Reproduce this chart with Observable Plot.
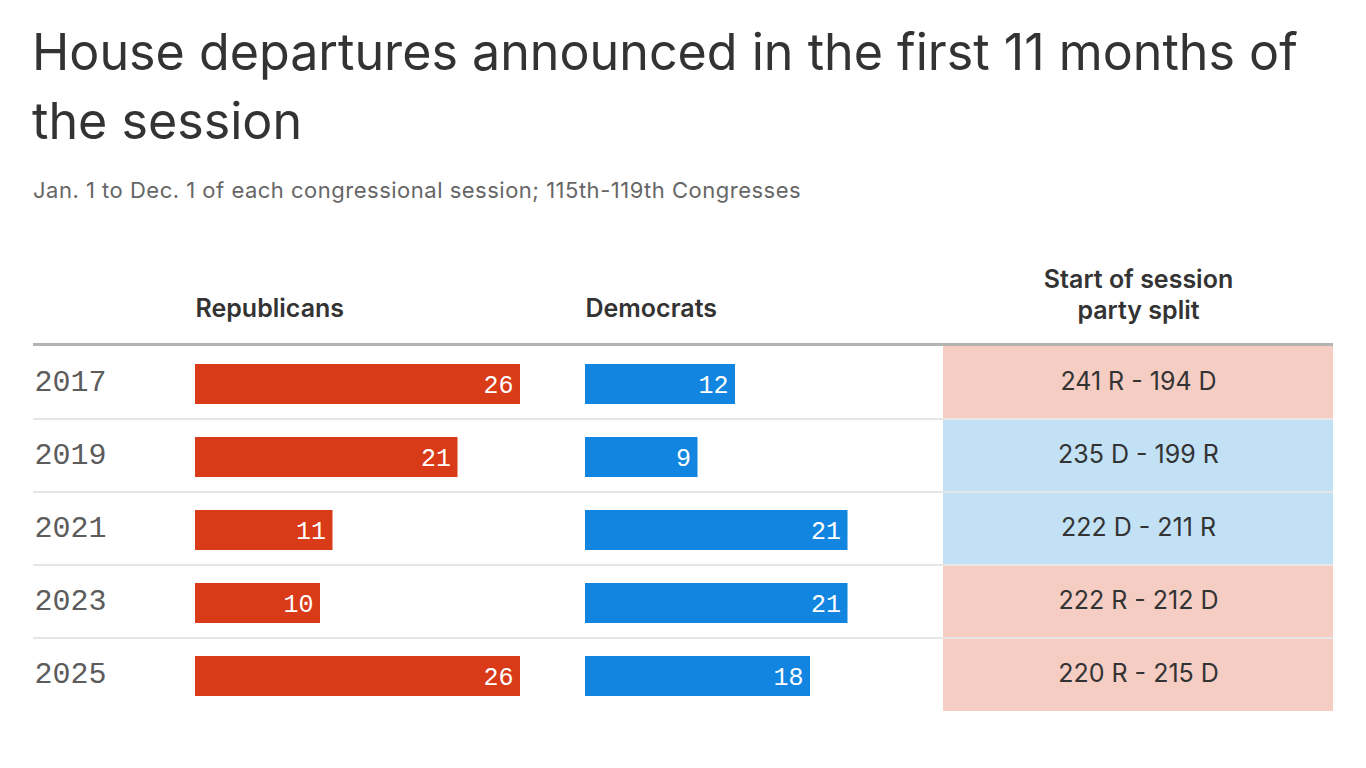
<!DOCTYPE html>
<html>
<head>
<meta charset="utf-8">
<script src="https://cdn.jsdelivr.net/npm/d3@7"></script>
<script src="https://cdn.jsdelivr.net/npm/@observablehq/plot@0.6"></script>
<style>
  body { margin: 0; background: #fff; width: 1366px; height: 768px; overflow: hidden; position: relative; font-family: Inter, "Noto Sans", sans-serif; }
  #title { position: absolute; left: 32px; top: 17px; font-size: 50.2px; line-height: 69px; color: #333; font-weight: 400; white-space: nowrap; letter-spacing: 0px; }
  #subtitle { position: absolute; left: 33px; top: 176px; font-size: 22px; line-height: 28px; color: #666; white-space: nowrap; letter-spacing: 0.5px; }
  #chart { position: absolute; left: 0; top: 240px; }
</style>
</head>
<body>
<div id="title">House departures announced in the first 11 months of<br>the session</div>
<div id="subtitle">Jan. 1 to Dec. 1 of each congressional session; 115th-119th Congresses</div>
<div id="chart"></div>
<script>
const years = ["2017", "2019", "2021", "2023", "2025"];
const republicans = [26, 21, 11, 10, 26];
const democrats = [12, 9, 21, 21, 18];
const splits = ["241 R - 194 D", "235 D - 199 R", "222 D - 211 R", "222 R - 212 D", "220 R - 215 D"];
const majority = ["R", "D", "D", "R", "R"];
const headers = ["Republicans", "Democrats", "Start of session\nparty split"];

// layout constants (in bar units, 1 unit = 12.5px)
const demOffset = 31.2;
const splitX1 = 59.84, splitX2 = 91.04;
const tableX1 = -12.96, tableX2 = 91.04;

const rows = years.map((year, i) => ({
  year, rep: republicans[i], dem: democrats[i], split: splits[i], maj: majority[i]
}));

const monoFont = "'Liberation Mono', 'DejaVu Sans Mono', monospace";

const plot = Plot.plot({
  width: 1366,
  height: 528,
  marginTop: 106,
  marginBottom: 57,
  marginLeft: 0,
  marginRight: 0,
  style: {fontFamily: "Inter, 'Noto Sans', sans-serif", background: "transparent", overflow: "visible"},
  x: {domain: [-15.6, 93.68], range: [0, 1366], axis: null},
  y: {type: "band", domain: years, padding: 0, axis: null},
  marks: [
    // split cells
    Plot.barX(rows, {
      x1: () => splitX1, x2: () => splitX2, y: "year",
      fill: d => d.maj === "R" ? "#f6cdc3" : "#c2e1f5"
    }),
    // row separators
    Plot.barX(rows.slice(0, -1), {
      x1: () => tableX1, x2: () => tableX2, y: "year",
      insetTop: 72, insetBottom: -1, fill: "#e6e6e6"
    }),
    // top heavy rule
    Plot.barX(rows.slice(0, 1), {
      x1: () => tableX1, x2: () => tableX2, y: "year",
      insetTop: -3, insetBottom: 73, fill: "#b3b3b3"
    }),
    // Republican bars
    Plot.barX(rows, {x1: () => 0, x2: "rep", y: "year", insetTop: 18, insetBottom: 15, fill: "#d93a17"}),
    // Democrat bars
    Plot.barX(rows, {x1: () => demOffset, x2: d => demOffset + d.dem, y: "year", insetTop: 18, insetBottom: 15, fill: "#1185e0"}),
    // bar labels
    Plot.text(rows, {x: "rep", y: "year", text: d => String(d.rep), textAnchor: "end", dx: -7, dy: 1.5, fill: "white", fontSize: 25, fontFamily: monoFont}),
    Plot.text(rows, {x: d => demOffset + d.dem, y: "year", text: d => String(d.dem), textAnchor: "end", dx: -7, dy: 1.5, fill: "white", fontSize: 25, fontFamily: monoFont}),
    // year labels
    Plot.text(rows, {x: () => tableX1, y: "year", text: "year", textAnchor: "start", dx: 1, dy: -1.5, fill: "#5c5c5c", fontSize: 30, fontFamily: monoFont}),
    // split labels
    Plot.text(rows, {x: () => (splitX1 + splitX2) / 2, y: "year", text: "split", textAnchor: "middle", dy: -1, fill: "#333", fontSize: 25, letterSpacing: "0.1px"}),
    // headers
    Plot.text([headers[0]], {x: () => 0, frameAnchor: "top", text: d => d, textAnchor: "start", dy: -47, fill: "#333", fontSize: 25, fontWeight: 600, letterSpacing: "0.6px"}),
    Plot.text([headers[1]], {x: () => demOffset, frameAnchor: "top", text: d => d, textAnchor: "start", dy: -47, fill: "#333", fontSize: 25, fontWeight: 600, letterSpacing: "0.6px"}),
    Plot.text([headers[2]], {x: () => (splitX1 + splitX2) / 2, frameAnchor: "top", text: d => d, textAnchor: "middle", dy: -81, fill: "#333", fontSize: 25, fontWeight: 600, letterSpacing: "0.6px", lineHeight: 1.25})
  ]
});
document.getElementById("chart").appendChild(plot);
</script>
</body>
</html>
